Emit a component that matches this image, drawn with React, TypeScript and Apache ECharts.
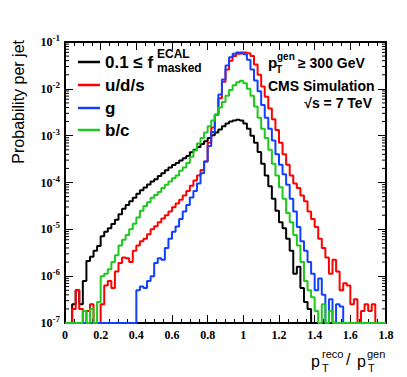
import React, { useEffect, useRef } from 'react';
import * as echarts from 'echarts';

// Histogram binning (bin left edges start at 0, width 0.02)
const BIN_WIDTH = 0.02;
const X_MIN = 0;
const X_MAX = 1.8;
const Y_MIN = 1e-7;
const Y_MAX = 1e-1;

// Probability per jet, one value per bin (0 = empty bin)
const maskedValues = [
  0, 0, 2.5e-7, 5.0e-7, 2.5e-7, 7.9e-7, 2.1e-6, 2.6e-6, 3.5e-6, 4.4e-6,
  7.1e-6, 8.9e-6, 1.05e-5, 1.3e-5, 1.6e-5, 2.1e-5, 2.75e-5, 3.3e-5, 4.0e-5, 4.7e-5,
  5.75e-5, 6.8e-5, 7.8e-5, 9.1e-5, 1.05e-4, 1.17e-4, 1.38e-4, 1.58e-4, 1.82e-4, 2.1e-4,
  2.35e-4, 2.6e-4, 2.95e-4, 3.3e-4, 3.7e-4, 4.4e-4, 5.0e-4, 5.75e-4, 6.6e-4, 7.6e-4,
  8.9e-4, 1.02e-3, 1.17e-3, 1.35e-3, 1.58e-3, 1.82e-3, 2.0e-3, 2.1e-3, 2.2e-3, 2.1e-3,
  1.82e-3, 1.41e-3, 1.0e-3, 7.1e-4, 4.5e-4, 2.5e-4, 1.41e-4, 8.3e-5, 4.5e-5, 2.5e-5,
  1.41e-5, 1.05e-5, 6.3e-6, 3.5e-6, 1.12e-6, 1.58e-6, 5.6e-7, 2.8e-7, 2.0e-7, 0,
  0, 0, 0, 0, 0, 0, 0, 0, 0, 0,
  0, 0, 0, 0, 0, 0, 0, 0, 0, 0,
];

const udsValues = [
  0, 0, 2.0e-7, 5.0e-7, 2.0e-7, 0, 1.8e-7, 2.5e-7, 0, 0,
  2.5e-7, 6.3e-7, 7.9e-7, 5.6e-7, 1.26e-6, 1.9e-6, 2.5e-6, 2.4e-6, 2.0e-6, 3.5e-6,
  4.5e-6, 5.6e-6, 6.3e-6, 7.9e-6, 1.0e-5, 1.17e-5, 1.41e-5, 1.7e-5, 2.0e-5, 2.4e-5,
  2.95e-5, 3.55e-5, 4.3e-5, 5.25e-5, 6.6e-5, 8.5e-5, 1.1e-4, 1.41e-4, 1.86e-4, 2.8e-4,
  7.1e-4, 1.5e-3, 2.8e-3, 6.3e-3, 1.41e-2, 2.6e-2, 4.0e-2, 5.0e-2, 5.6e-2, 5.75e-2,
  6.0e-2, 5.75e-2, 5.0e-2, 3.3e-2, 2.0e-2, 1.12e-2, 6.8e-3, 3.8e-3, 2.24e-3, 1.32e-3,
  7.1e-4, 4.0e-4, 2.4e-4, 1.41e-4, 9.5e-5, 7.6e-5, 5.25e-5, 4.0e-5, 2.4e-5, 1.66e-5,
  1.12e-5, 6.3e-6, 4.0e-6, 2.5e-6, 1.12e-6, 2.24e-6, 1.26e-6, 5.0e-7, 7.1e-7, 6.3e-7,
  2.5e-7, 3.2e-7, 0, 1.8e-7, 2.5e-7, 1.8e-7, 2.5e-7, 0, 0, 0,
];

const gluonValues = [
  0, 0, 0, 0, 0, 0, 0, 0, 0, 0,
  0, 0, 0, 0, 0, 0, 0, 0, 0, 0,
  5.0e-7, 6.0e-7, 5.6e-7, 7.9e-7, 1.0e-6, 1.9e-6, 2.4e-6, 2.24e-6, 4.0e-6, 6.3e-6,
  8.9e-6, 1.15e-5, 1.66e-5, 2.4e-5, 3.3e-5, 4.8e-5, 6.6e-5, 9.5e-5, 1.58e-4, 2.8e-4,
  6.0e-4, 1.2e-3, 2.8e-3, 7.6e-3, 1.58e-2, 3.16e-2, 4.7e-2, 5.6e-2, 6.0e-2, 6.0e-2,
  5.5e-2, 4.2e-2, 2.6e-2, 1.5e-2, 8.9e-3, 4.5e-3, 2.4e-3, 1.41e-3, 7.9e-4, 4.0e-4,
  2.4e-4, 1.5e-4, 8.9e-5, 4.5e-5, 2.4e-5, 1.12e-5, 5.6e-6, 3.5e-6, 2.0e-6, 1.12e-6,
  5.0e-7, 8.9e-7, 4.0e-7, 0, 3.2e-7, 0, 2.5e-7, 2.24e-7, 0, 0,
  0, 0, 0, 0, 0, 0, 0, 0, 0, 0,
];

const bcValues = [
  0, 0, 0, 0, 0, 1.8e-7, 0, 2.0e-7, 0, 2.8e-7,
  1.0e-6, 1.12e-6, 1.41e-6, 2.0e-6, 2.8e-6, 4.5e-6, 6.0e-6, 7.6e-6, 1.0e-5, 1.32e-5,
  1.78e-5, 2.5e-5, 3.16e-5, 3.8e-5, 4.7e-5, 5.4e-5, 6.3e-5, 7.6e-5, 8.9e-5, 1.05e-4,
  1.23e-4, 1.41e-4, 1.78e-4, 2.1e-4, 2.6e-4, 3.55e-4, 4.8e-4, 6.8e-4, 8.9e-4, 1.17e-3,
  1.58e-3, 2.1e-3, 2.8e-3, 4.0e-3, 5.25e-3, 7.1e-3, 9.5e-3, 1.2e-2, 1.38e-2, 1.48e-2,
  1.32e-2, 1.0e-2, 7.1e-3, 4.2e-3, 2.4e-3, 1.41e-3, 8.9e-4, 5.0e-4, 2.5e-4, 1.41e-4,
  7.9e-5, 4.5e-5, 2.24e-5, 1.41e-5, 7.6e-6, 4.5e-6, 2.0e-6, 7.9e-7, 5.0e-7, 3.55e-7,
  1.8e-7, 0, 2.5e-7, 0, 1.8e-7, 0, 0, 0, 0, 0,
  0, 0, 0, 0, 0, 0, 0, 0, 0, 0,
];

const seriesNames = ['masked', 'u/d/s', 'g', 'b/c'];
const seriesColors = ['#000000', '#ff0000', '#1040ff', '#1ec81e'];
const seriesValues = [maskedValues, udsValues, gluonValues, bcValues];

const SANS = '"Liberation Sans", Arial, sans-serif';
const SERIF = '"Liberation Serif", "Times New Roman", serif';

function toSteps(vals: number[]) {
  const pts: number[][] = vals.map((v, i) => [
    +(X_MIN + i * BIN_WIDTH).toFixed(4),
    v > 0 ? v : Y_MIN,
  ]);
  const last = vals[vals.length - 1];
  pts.push([+(X_MIN + vals.length * BIN_WIDTH).toFixed(4), last > 0 ? last : Y_MIN]);
  return pts;
}

function logMinorTicks(): number[] {
  const out: number[] = [];
  const eMin = Math.round(Math.log10(Y_MIN));
  const eMax = Math.round(Math.log10(Y_MAX));
  for (let e = eMin; e < eMax; e++) {
    for (let m = 2; m <= 9; m++) out.push(m * Math.pow(10, e));
  }
  return out;
}

export default function App() {
  const ref = useRef<HTMLDivElement>(null);

  useEffect(() => {
    if (!ref.current) return;
    const chart = echarts.init(ref.current, undefined, { renderer: 'svg' });

    const xAxisBase = {
      type: 'value',
      min: X_MIN,
      max: X_MAX,
      interval: 0.2,
      axisLine: { show: true, onZero: false, lineStyle: { color: '#000', width: 2 } },
      axisTick: { show: true, inside: true, length: 8, lineStyle: { color: '#000', width: 1 } },
      minorTick: { show: true, splitNumber: 4, length: 4, lineStyle: { color: '#000', width: 1 } },
      splitLine: { show: false },
      minorSplitLine: { show: false },
    };
    const yAxisBase = {
      type: 'log',
      logBase: 10,
      min: Y_MIN,
      max: Y_MAX,
      splitNumber: 6,
      axisLine: { show: true, onZero: false, lineStyle: { color: '#000', width: 2 } },
      axisTick: { show: true, inside: true, length: 8, lineStyle: { color: '#000', width: 1 } },
      splitLine: { show: false },
    };

    const lineSeries = seriesValues.map((vals, i) => ({
      type: 'line',
      name: seriesNames[i],
      xAxisIndex: 0,
      yAxisIndex: 0,
      step: 'end',
      showSymbol: false,
      symbol: 'none',
      data: toSteps(vals),
      lineStyle: { color: seriesColors[i], width: 2 },
      itemStyle: { color: seriesColors[i] },
      z: 3 + i,
      clip: true,
    }));

    const minorTickSeries = {
      type: 'custom',
      xAxisIndex: 0,
      yAxisIndex: 0,
      silent: true,
      clip: false,
      z: 10,
      data: logMinorTicks().map((v) => [X_MIN, v]),
      renderItem: (_params: any, api: any) => {
        const v = api.value(1);
        const l = api.coord([X_MIN, v]);
        const r = api.coord([X_MAX, v]);
        return {
          type: 'group',
          children: [
            { type: 'line', shape: { x1: l[0], y1: l[1], x2: l[0] + 4, y2: l[1] }, style: { stroke: '#000', lineWidth: 1 } },
            { type: 'line', shape: { x1: r[0] - 4, y1: r[1], x2: r[0], y2: r[1] }, style: { stroke: '#000', lineWidth: 1 } },
          ],
        };
      },
    };

    const legendRows = [
      { y: 62, color: seriesColors[0], text: '0.1 ≤ f' },
      { y: 85, color: seriesColors[1], text: 'u/d/s' },
      { y: 108, color: seriesColors[2], text: 'g' },
      { y: 130, color: seriesColors[3], text: 'b/c' },
    ];

    const graphics: any[] = [];
    legendRows.forEach((r) => {
      graphics.push({
        type: 'line',
        shape: { x1: 78, y1: r.y, x2: 100, y2: r.y },
        style: { stroke: r.color, lineWidth: 2.5 },
        z: 20,
      });
      graphics.push({
        type: 'text',
        x: 105,
        y: r.y,
        style: { text: r.text, fill: '#000', font: `bold 17px ${SANS}`, align: 'left', verticalAlign: 'middle' },
        z: 20,
      });
    });
    graphics.push(
      { type: 'text', x: 157, y: 54, style: { text: 'ECAL', fill: '#000', font: `bold 12px ${SANS}`, verticalAlign: 'middle' }, z: 20 },
      { type: 'text', x: 157, y: 68, style: { text: 'masked', fill: '#000', font: `bold 12px ${SANS}`, verticalAlign: 'middle' }, z: 20 },
      // top-right annotations
      { type: 'text', x: 268, y: 62, style: { text: 'p', fill: '#000', font: `bold 15px ${SANS}`, verticalAlign: 'middle' }, z: 20 },
      { type: 'text', x: 277, y: 56, style: { text: 'gen', fill: '#000', font: `bold 10px ${SANS}`, verticalAlign: 'middle' }, z: 20 },
      { type: 'text', x: 276, y: 69, style: { text: 'T', fill: '#000', font: `bold 10px ${SANS}`, verticalAlign: 'middle' }, z: 20 },
      { type: 'text', x: 298, y: 63, style: { text: '≥ 300 GeV', fill: '#000', font: `bold 14px ${SANS}`, verticalAlign: 'middle' }, z: 20 },
      { type: 'text', x: 268, y: 86, style: { text: 'CMS Simulation', fill: '#000', font: `bold 14px ${SANS}`, verticalAlign: 'middle' }, z: 20 },
      { type: 'text', x: 372, y: 103, style: { text: '√s = 7 TeV', fill: '#000', font: `bold 14px ${SANS}`, align: 'right', verticalAlign: 'middle' }, z: 20 },
      // y axis title
      {
        type: 'text', x: 18, y: 40, rotation: Math.PI / 2,
        style: { text: 'Probability per jet', fill: '#000', font: `16px ${SANS}`, align: 'right', verticalAlign: 'middle' }, z: 20,
      },
      // x axis title
      { type: 'text', x: 311, y: 361, style: { text: 'p', fill: '#000', font: `16px ${SANS}`, verticalAlign: 'middle' }, z: 20 },
      { type: 'text', x: 322, y: 354, style: { text: 'reco', fill: '#000', font: `11px ${SANS}`, verticalAlign: 'middle' }, z: 20 },
      { type: 'text', x: 322, y: 368, style: { text: 'T', fill: '#000', font: `11px ${SANS}`, verticalAlign: 'middle' }, z: 20 },
      { type: 'text', x: 346, y: 359, style: { text: '/', fill: '#000', font: `16px ${SANS}`, verticalAlign: 'middle' }, z: 20 },
      { type: 'text', x: 357, y: 361, style: { text: 'p', fill: '#000', font: `16px ${SANS}`, verticalAlign: 'middle' }, z: 20 },
      { type: 'text', x: 367, y: 354, style: { text: 'gen', fill: '#000', font: `11px ${SANS}`, verticalAlign: 'middle' }, z: 20 },
      { type: 'text', x: 368, y: 368, style: { text: 'T', fill: '#000', font: `11px ${SANS}`, verticalAlign: 'middle' }, z: 20 },
    );

    chart.setOption({
      animation: false,
      backgroundColor: '#fff',
      grid: { left: 65, right: 21, top: 42, bottom: 54, containLabel: false },
      xAxis: [
        {
          ...xAxisBase,
          position: 'bottom',
          axisLabel: {
            show: true,
            margin: 6,
            color: '#000',
            fontFamily: SERIF,
            fontWeight: 'bold',
            fontSize: 12,
            formatter: (v: number) => String(+v.toFixed(1)),
          },
        },
        { ...xAxisBase, position: 'top', axisLabel: { show: false } },
      ],
      yAxis: [
        {
          ...yAxisBase,
          position: 'left',
          axisLabel: {
            show: true,
            margin: 5,
            showMinLabel: true,
            showMaxLabel: true,
            formatter: (v: number) => `{b|10}{s|${Math.round(Math.log10(v))}}`,
            rich: {
              b: { fontFamily: SERIF, fontWeight: 'bold', fontSize: 12, color: '#000' },
              s: { fontFamily: SERIF, fontWeight: 'bold', fontSize: 9, color: '#000', padding: [0, 0, 8, 0] },
            },
          },
        },
        { ...yAxisBase, position: 'right', axisLabel: { show: false } },
      ],
      series: [...lineSeries, minorTickSeries],
      graphic: graphics,
    });

    return () => chart.dispose();
  }, []);

  return (
    <div
      ref={ref}
      style={{ position: 'absolute', left: 0, top: 0, width: 407, height: 377, background: '#fff' }}
    />
  );
}
